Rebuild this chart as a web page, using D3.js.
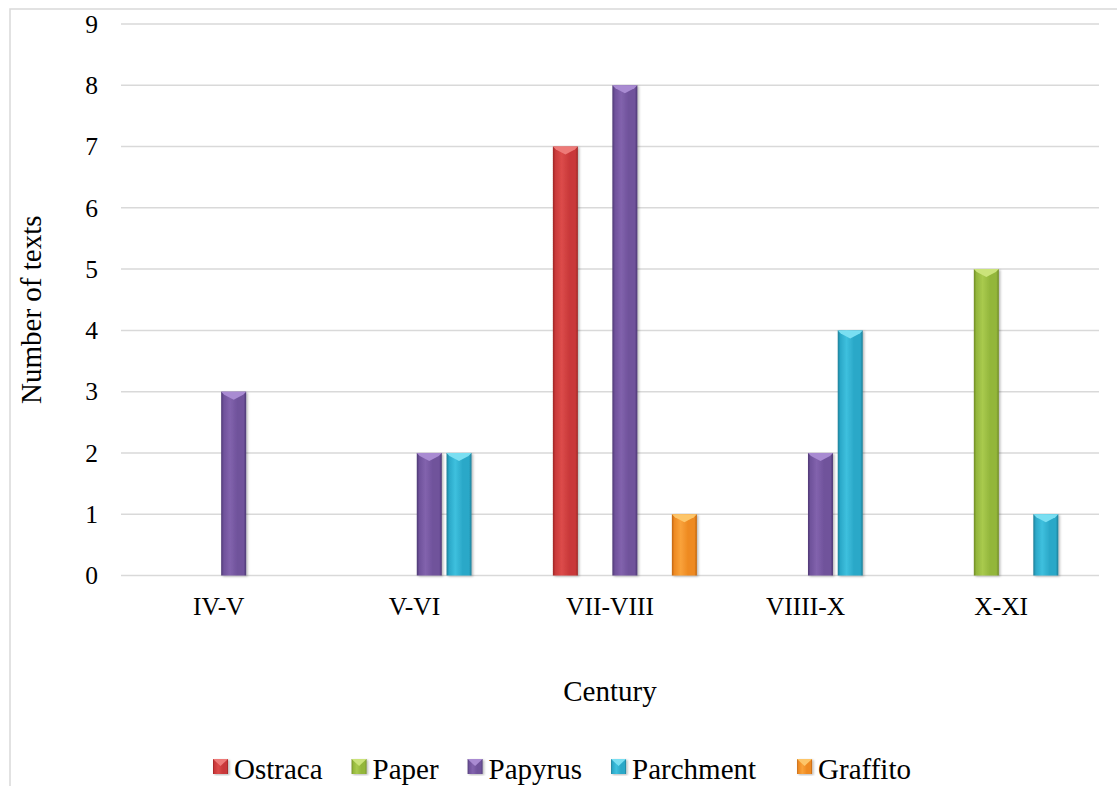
<!DOCTYPE html>
<html>
<head>
<meta charset="utf-8">
<script src="https://cdn.jsdelivr.net/npm/d3@7"></script>
<style>
  html, body { margin: 0; padding: 0; background: #fff; }
  svg text { font-family: "Liberation Serif", "DejaVu Serif", serif !important; }
</style>
</head>
<body>
<svg id="chart" width="1117" height="786"></svg>
<script>
// Number of texts per writing material and century
const categories = ["IV-V", "V-VI", "VII-VIII", "VIIII-X", "X-XI"];
const seriesNames = ["Ostraca", "Paper", "Papyrus", "Parchment", "Graffito"];
const ostraca   = [0, 0, 7, 0, 0];
const paper     = [0, 0, 0, 0, 5];
const papyrus   = [3, 2, 8, 2, 0];
const parchment = [0, 2, 0, 4, 1];
const graffito  = [0, 0, 1, 0, 0];
const yTicks = [0, 1, 2, 3, 4, 5, 6, 7, 8, 9];

const seriesValues = [ostraca, paper, papyrus, parchment, graffito];

// colour ramps for the bevelled columns: [edge, body, highlight, top facet]
const palette = {
  "Ostraca":   ["#9c2525", "#c9393a", "#dc4b4a", "#ee7a78"],
  "Paper":     ["#6f8a25", "#93b63b", "#a9ca4e", "#cbe37a"],
  "Papyrus":   ["#4d3873", "#6f529b", "#8263ad", "#a98bd2"],
  "Parchment": ["#1d7d96", "#2ba8c8", "#3ec0de", "#7adff2"],
  "Graffito":  ["#c0640f", "#ee8a22", "#f9a23a", "#fdc66a"]
};

const FONT = '"Liberation Serif", "DejaVu Serif", serif';

const svg = d3.select("#chart");
const defs = svg.append("defs");

seriesNames.forEach((name, i) => {
  const c = palette[name];
  const g = defs.append("linearGradient")
    .attr("id", "grad" + i).attr("x1", "0").attr("x2", "1").attr("y1", "0").attr("y2", "0");
  [[0, c[0]], [0.1, c[1]], [0.35, c[2]], [0.65, c[1]], [0.9, c[1]], [1, c[0]]]
    .forEach(([o, col]) => g.append("stop").attr("offset", o).attr("stop-color", col));
});

const shadow = defs.append("filter").attr("id", "shadow")
  .attr("x", "-30%").attr("y", "-10%").attr("width", "160%").attr("height", "120%");
shadow.append("feDropShadow").attr("dx", 1.5).attr("dy", 1).attr("stdDeviation", 1.2)
  .attr("flood-color", "#000").attr("flood-opacity", 0.28);

// chart frame
svg.append("rect")
  .attr("x", 10).attr("y", 9).attr("width", 1130).attr("height", 800)
  .attr("fill", "none").attr("stroke", "#d9d9d9").attr("stroke-width", 1.5);

const plot = { left: 121, right: 1099, top: 24, bottom: 575.5 };

const x = d3.scaleBand().domain(categories).range([plot.left, plot.right]).padding(0);
// one spare slot ahead of the five materials keeps the column spacing of the layout
const slots = [""].concat(seriesNames);
const xInner = d3.scaleBand().domain(slots).range([0, x.bandwidth() * 0.9126])
  .paddingInner(0.16).paddingOuter(0.08);
const innerOffset = (x.bandwidth() - x.bandwidth() * 0.9126) / 2;

const y = d3.scaleLinear().domain([0, 9]).range([plot.bottom, plot.top]);

// horizontal gridlines
svg.append("g").selectAll("line").data(yTicks).join("line")
  .attr("x1", plot.left).attr("x2", plot.right)
  .attr("y1", d => y(d)).attr("y2", d => y(d))
  .attr("stroke", "#d9d9d9").attr("stroke-width", 1.5);

// y axis labels
const yAxis = svg.append("g").attr("transform", `translate(${plot.left},0)`)
  .call(d3.axisLeft(y).tickValues(yTicks).tickFormat(d3.format("d")).tickSize(0).tickPadding(23));
yAxis.attr("font-family", null);
yAxis.select(".domain").remove();
yAxis.selectAll("text").attr("font-size", 25.5).attr("fill", "#000").style("font-family", FONT);

// x axis labels
const xAxis = svg.append("g").attr("transform", `translate(0,${plot.bottom})`)
  .call(d3.axisBottom(x).tickSize(0).tickPadding(21));
xAxis.attr("font-family", null);
xAxis.select(".domain").remove();
xAxis.selectAll("text").attr("font-size", 25.5).attr("fill", "#000").style("font-family", FONT);

// columns
const bars = [];
seriesNames.forEach((name, si) => {
  seriesValues[si].forEach((v, ci) => {
    if (v > 0) bars.push({ name, si, cat: categories[ci], value: v });
  });
});

const barG = svg.append("g");
const col = barG.selectAll("g.bar").data(bars).join("g").attr("class", "bar")
  .attr("filter", "url(#shadow)");

col.append("rect")
  .attr("x", d => x(d.cat) + innerOffset + xInner(d.name))
  .attr("y", d => y(d.value))
  .attr("width", xInner.bandwidth())
  .attr("height", d => y(0) - y(d.value))
  .attr("fill", d => `url(#grad${d.si})`);

// bevel facet on the top of each column
col.append("path")
  .attr("d", d => {
    const x0 = x(d.cat) + innerOffset + xInner(d.name);
    const x1 = x0 + xInner.bandwidth();
    const y0 = y(d.value);
    return `M${x0},${y0}L${x1},${y0}L${x1 - 3},${y0 + 3}L${(x0 + x1) / 2},${y0 + 8}L${x0 + 3},${y0 + 3}Z`;
  })
  .attr("fill", d => palette[d.name][3]);

// axis titles
svg.append("text")
  .attr("transform", `translate(41,${(plot.top + plot.bottom) / 2 + 10}) rotate(-90)`)
  .attr("text-anchor", "middle").attr("font-size", 29).attr("fill", "#000")
  .style("font-family", FONT)
  .text("Number of texts");

svg.append("text")
  .attr("x", (plot.left + plot.right) / 2).attr("y", 701)
  .attr("text-anchor", "middle").attr("font-size", 29).attr("fill", "#000")
  .style("font-family", FONT)
  .text("Century");

// legend
const legend = svg.append("g");
const legendY = 779;
const mark = 15;
let lx = 213;
seriesNames.forEach((name, i) => {
  if (i === seriesNames.length - 1) lx += 12;
  const item = legend.append("g").attr("transform", `translate(${lx},0)`);
  const top = legendY - 5 - mark;
  item.append("rect").attr("x", 0).attr("y", top).attr("width", mark).attr("height", mark)
    .attr("fill", `url(#grad${i})`).attr("filter", "url(#shadow)");
  item.append("path")
    .attr("d", `M0,${top}L${mark},${top}L${mark / 2},${top + 7}Z`)
    .attr("fill", palette[name][3]);
  const t = item.append("text").attr("x", 21).attr("y", legendY)
    .attr("font-size", 29).attr("fill", "#000").style("font-family", FONT).text(name);
  const w = t.node().getComputedTextLength();
  lx += 21 + w + 29;
});
</script>
</body>
</html>
